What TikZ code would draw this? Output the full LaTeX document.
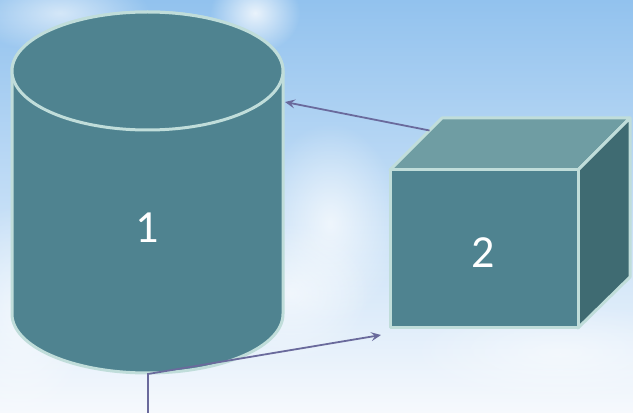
\documentclass[tikz,border=0pt]{standalone}
\usepackage{fontspec}
\setmainfont{Carlito}
\usetikzlibrary{arrows.meta,fadings,calc}
\definecolor{skytop}{RGB}{146,194,238}
\definecolor{skymid}{RGB}{196,222,246}
\definecolor{skybot}{RGB}{246,249,253}
\definecolor{frontc}{RGB}{79,131,144}
\definecolor{topc}{RGB}{111,157,163}
\definecolor{sidec}{RGB}{63,107,114}
\definecolor{rimc}{RGB}{192,221,218}
\definecolor{arrc}{RGB}{106,106,156}
\tikzfading[name=softblob, inner color=transparent!0, outer color=transparent!100]
\tikzset{
  shapeface/.style={line width=3pt, draw=rimc, line join=round},
  conn/.style={draw=arrc, line width=1.8pt, -{Stealth[length=10pt,width=9pt,inset=4pt]}},
  numlabel/.style={text=white, font=\fontsize{46}{46}\selectfont, inner sep=0pt},
  cloud/.style={fill=white, path fading=softblob}
}
\begin{document}
\begin{tikzpicture}[x=1pt,y=1pt]
% background sky
\shade[top color=skytop, bottom color=skybot, middle color=skymid] (0,0) rectangle (633,413);
\useasboundingbox (0,0) rectangle (633,413);
\fill[cloud, opacity=0.8] (255,400) ellipse (45 and 40);
\fill[cloud, opacity=0.6] (60,400) ellipse (90 and 40);
\fill[cloud, opacity=0.7] (330,190) ellipse (70 and 100);
\fill[cloud, opacity=0.6] (290,120) ellipse (80 and 70);
\fill[cloud, opacity=0.6] (20,100) ellipse (70 and 110);
\fill[cloud, opacity=0.5] (560,60) ellipse (150 and 50);
% cylinder
\path[shapeface, fill=frontc] (12,342) -- (12,99)
  arc[start angle=180, end angle=360, x radius=135.5, y radius=59] -- (283,342)
  arc[start angle=0, end angle=180, x radius=135.5, y radius=59] -- cycle;
\path[shapeface, fill=frontc] (147.5,342) ellipse [x radius=135.5, y radius=59];
\node[numlabel] (cyl) at (147.5,185) {1};
% cube
\coordinate (fbl) at (390,85);
\coordinate (fbr) at (578,85);
\coordinate (ftr) at (578,243);
\coordinate (ftl) at (390,243);
\coordinate (btl) at (442,295);
\coordinate (btr) at (630,295);
\coordinate (bbr) at (630,136);
\path[shapeface, fill=topc] (ftl) -- (btl) -- (btr) -- (ftr) -- cycle;
\path[shapeface, fill=sidec] (ftr) -- (btr) -- (bbr) -- (fbr) -- cycle;
\path[shapeface, fill=frontc] (fbl) rectangle (ftr);
\node[numlabel] (cube) at (483,160) {2};
% connectors
\coordinate (cubeedge) at ($(ftl)!0.76!(btl)$);
\coordinate (cylside) at (285,311);
\coordinate (cylbot) at (148,39);
\coordinate (loose) at (148,0);
\coordinate (cubein) at (381,78);
\draw[conn] (cubeedge) -- (cylside);
\draw[conn] (loose) -- (cylbot) -- (cubein);
\end{tikzpicture}
\end{document}
